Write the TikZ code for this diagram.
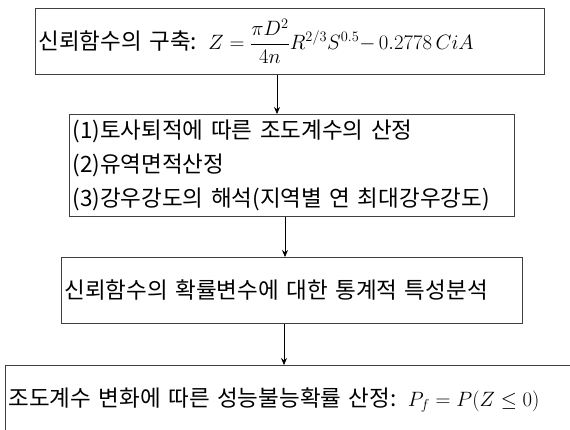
\documentclass[tikz,border=0pt]{standalone}
\usepackage{fontspec}
\newfontfamily\kr[WordSpace=3]{Noto Sans CJK KR}
\usetikzlibrary{arrows.meta,calc}
\newcommand{\mymath}[2]{{\fontsize{#1}{#1}\selectfont$\displaystyle #2$}}
\begin{document}
\begin{tikzpicture}[x=1pt,y=1pt,
  box/.style={draw=black!75, line width=0.9pt, rectangle, anchor=north west, inner xsep=3pt, inner ysep=0pt, align=left, font=\fontsize{22.5}{34}\kr},
  arr/.style={-{Stealth[length=7pt,width=6pt]}, line width=0.7pt}]
\useasboundingbox (0,0) rectangle (570,-429);
\clip (0,0) rectangle (570,-429);
\node[box, minimum width=509pt, minimum height=66pt, text width=503pt] (b1) at (35,-8)
  {신뢰함수의 구축: \mymath{21.5}{Z=\frac{\pi D^2}{4n}R^{2/3}S^{0.5}{-}\,0.2778\,CiA}};
\node[box, minimum width=445pt, minimum height=102pt, text width=439pt] (b2) at (69,-114)
  {(1)토사퇴적에 따른 조도계수의 산정\\(2)유역면적산정\\(3)강우강도의 해석(지역별 연 최대강우강도)};
\node[box, minimum width=461pt, minimum height=66pt, text width=455pt] (b3) at (61,-257)
  {신뢰함수의 확률변수에 대한 통계적 특성분석};
\node[box, minimum width=580pt, minimum height=70pt, text width=574pt] (b4) at (5,-365)
  {조도계수 변화에 따른 성능불능확률 산정: \mymath{22}{P_f=P(Z\le 0)}};
\coordinate (x1) at (277,0);
\coordinate (x2) at (285,0);
\coordinate (x3) at (284,0);
\draw[arr] (b1.south -| x1) -- (b2.north -| x1);
\draw[arr] (b2.south -| x2) -- (b3.north -| x2);
\draw[arr] (b3.south -| x3) -- (b4.north -| x3);
\end{tikzpicture}
\end{document}
